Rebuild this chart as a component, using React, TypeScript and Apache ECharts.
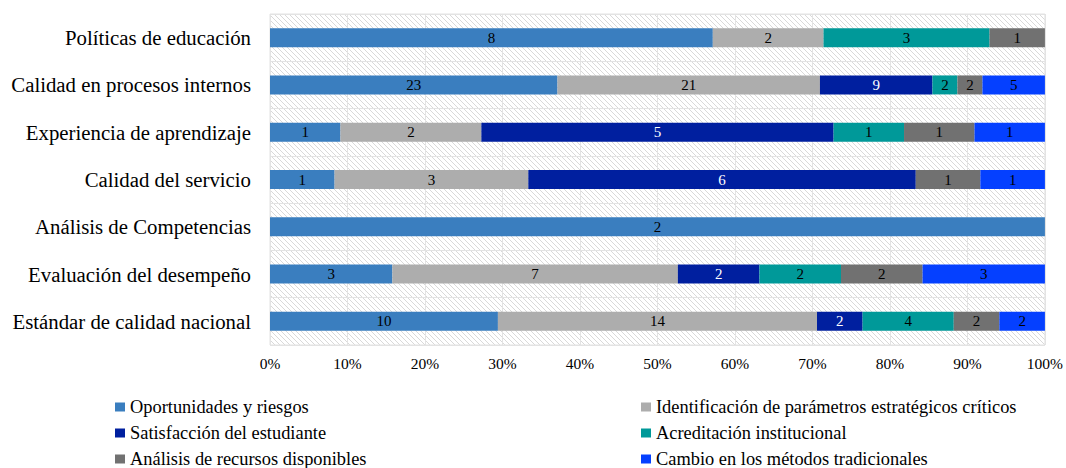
import React, { useEffect, useRef } from "react";
import * as echarts from "echarts";

const categories = [
  "Políticas de educación",
  "Calidad en procesos internos",
  "Experiencia de aprendizaje",
  "Calidad del servicio",
  "Análisis de Competencias",
  "Evaluación del desempeño",
  "Estándar de calidad nacional",
];

const seriesNames = [
  "Oportunidades y riesgos",
  "Identificación de parámetros estratégicos críticos",
  "Satisfacción del estudiante",
  "Acreditación institucional",
  "Análisis de recursos disponibles",
  "Cambio en los métodos tradicionales",
];

const oportunidades = [8, 23, 1, 1, 2, 3, 10];
const identificacion = [2, 21, 2, 3, 0, 7, 14];
const satisfaccion = [0, 9, 5, 6, 0, 2, 2];
const acreditacion = [3, 2, 1, 0, 0, 2, 4];
const recursos = [1, 2, 1, 1, 0, 2, 2];
const cambio = [0, 5, 1, 1, 0, 3, 2];

const xTicks = [0, 10, 20, 30, 40, 50, 60, 70, 80, 90, 100];

const colors = ["#3a7ebf", "#adadad", "#001f9f", "#009999", "#717171", "#0540ff"];
const labelColors = ["#000", "#000", "#fff", "#000", "#000", "#000"];

const allCounts = [oportunidades, identificacion, satisfaccion, acreditacion, recursos, cambio];

function makeHatch(): HTMLCanvasElement {
  const c = document.createElement("canvas");
  const s = 5;
  c.width = s;
  c.height = s;
  const ctx = c.getContext("2d")!;
  ctx.fillStyle = "#ffffff";
  ctx.fillRect(0, 0, s, s);
  ctx.strokeStyle = "#d9d9d9";
  ctx.lineWidth = 1;
  ctx.beginPath();
  ctx.moveTo(-1, -1);
  ctx.lineTo(s + 1, s + 1);
  ctx.moveTo(-1, s - 1);
  ctx.lineTo(1, s + 1);
  ctx.moveTo(s - 1, -1);
  ctx.lineTo(s + 1, 1);
  ctx.stroke();
  return c;
}

export default function App() {
  const ref = useRef<HTMLDivElement>(null);
  useEffect(() => {
    if (!ref.current) return;
    const chart = echarts.init(ref.current, null, { renderer: "svg" });
    const totals = categories.map((_, i) => allCounts.reduce((a, arr) => a + arr[i], 0));
    const font = "Liberation Serif";
    const series = seriesNames.map((name, si) => ({
      name,
      type: "bar",
      stack: "total",
      barWidth: 19,
      itemStyle: { color: colors[si] },
      label: {
        show: true,
        position: "inside",
        color: labelColors[si],
        fontFamily: font,
        fontSize: 15,
        formatter: (p: any) => {
          const v = allCounts[si][p.dataIndex];
          return v ? String(v) : "";
        },
      },
      data: allCounts[si].map((v, i) => (v / totals[i]) * 100),
    }));
    const legendText = { fontFamily: font, fontSize: 18.4, lineHeight: 18, color: "#000" };
    chart.setOption({
      animation: false,
      textStyle: { fontFamily: font },
      grid: {
        left: 270,
        right: 20,
        top: 14,
        bottom: 123,
        show: true,
        backgroundColor: { image: makeHatch(), repeat: "repeat" },
        borderColor: "#e3e3e3",
        borderWidth: 1,
      },
      legend: [
        {
          orient: "vertical",
          left: 115,
          top: 398,
          padding: 0,
          itemWidth: 10,
          itemHeight: 9,
          itemGap: 8,
          icon: "rect",
          data: [seriesNames[0], seriesNames[2], seriesNames[4]],
          textStyle: legendText,
        },
        {
          orient: "vertical",
          left: 641,
          top: 398,
          padding: 0,
          itemWidth: 10,
          itemHeight: 9,
          itemGap: 8,
          icon: "rect",
          data: [seriesNames[1], seriesNames[3], seriesNames[5]],
          textStyle: legendText,
        },
      ],
      xAxis: {
        type: "value",
        min: xTicks[0],
        max: xTicks[xTicks.length - 1],
        interval: xTicks[1] - xTicks[0],
        axisLine: { show: false },
        axisTick: { show: false },
        splitLine: { show: true, lineStyle: { color: "#e3e3e3", width: 1 } },
        axisLabel: {
          formatter: "{value}%",
          fontFamily: font,
          fontSize: 15.5,
          color: "#000",
          margin: 10,
        },
      },
      yAxis: {
        type: "category",
        inverse: true,
        data: categories,
        axisLine: { show: false },
        axisTick: { show: false },
        splitLine: { show: true, lineStyle: { color: "#e3e3e3", width: 1 } },
        axisLabel: {
          fontFamily: font,
          fontSize: 20.8,
          color: "#000",
          margin: 19,
        },
      },
      series,
    });
    return () => chart.dispose();
  }, []);
  return (
    <div
      ref={ref}
      style={{ position: "fixed", left: 0, top: 0, width: 1066, height: 468, background: "#fff" }}
    />
  );
}
